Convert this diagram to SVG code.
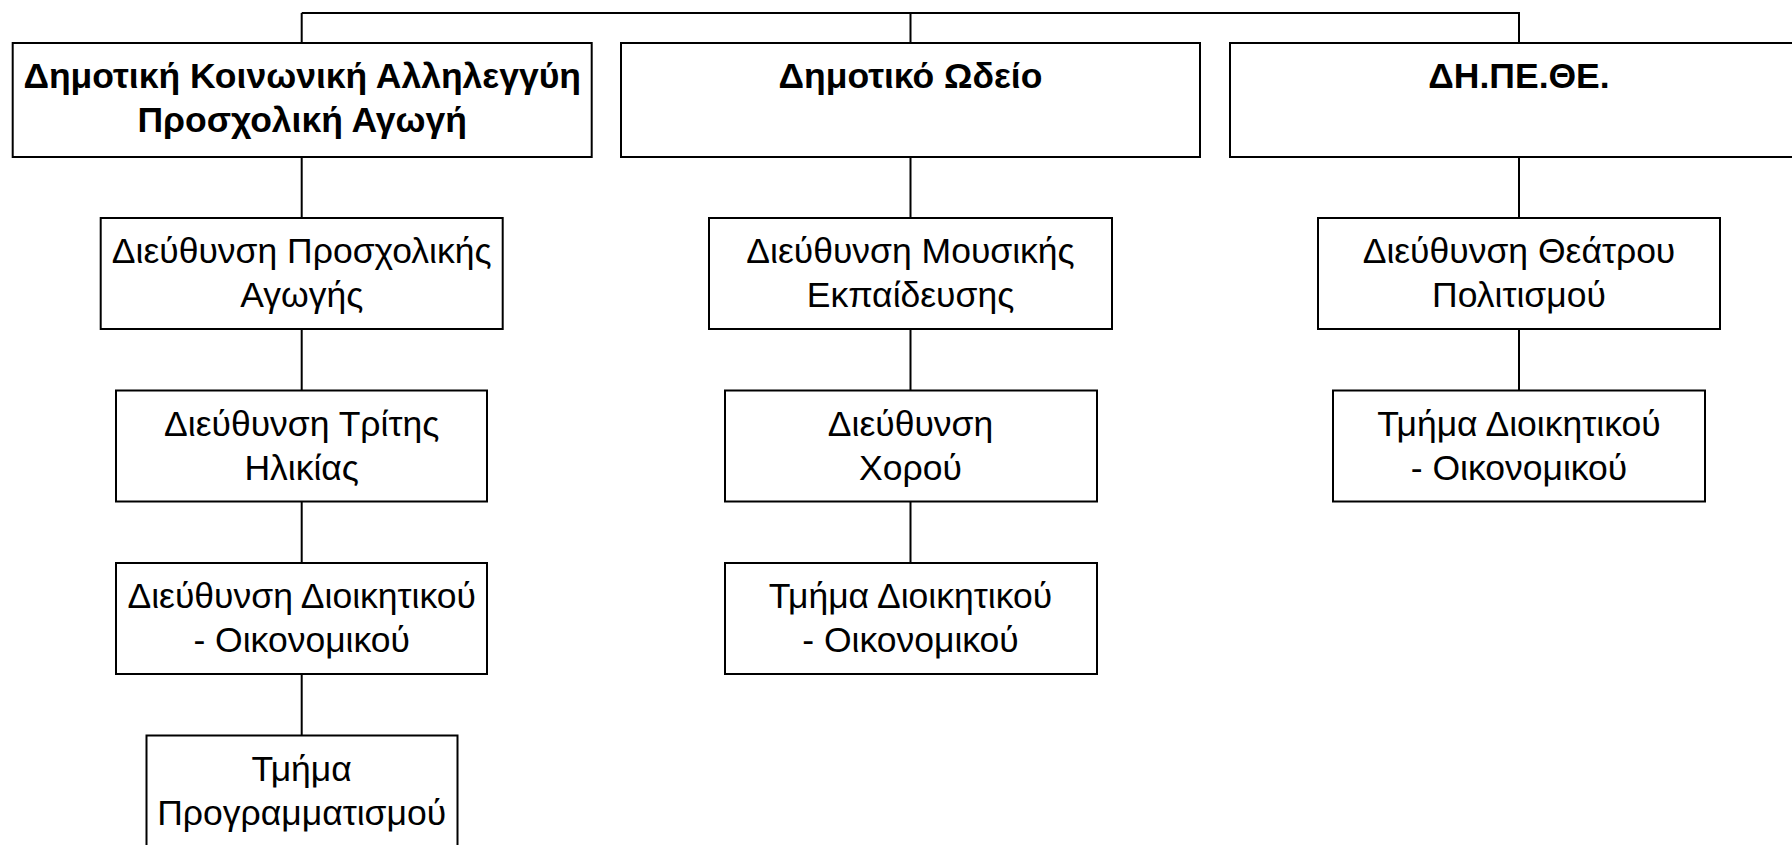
<svg xmlns="http://www.w3.org/2000/svg" width="1792" height="845" viewBox="0 0 1792 845">
  <style>
    .box { fill: #ffffff; stroke: #000000; stroke-width: 2; }
    .link { fill: none; stroke: #000000; stroke-width: 2; }
    .head { font-family: "Liberation Sans", Arial, sans-serif; font-size: 35.5px; font-weight: bold; fill: #000000; text-anchor: middle; }
    .unit { font-family: "Liberation Sans", Arial, sans-serif; font-size: 35.5px; fill: #000000; text-anchor: middle; }
  </style>
  <rect width="1792" height="845" fill="#ffffff"/>

  <!-- connectors -->
  <g id="connectors" class="link">
    <path d="M301.7 13V43 M301.7 13H1519V43 M910.5 13V43"/>
    <path d="M301.7 157V218 M301.7 329V390.5 M301.7 501.5V563 M301.7 674V735.5"/>
    <path d="M910.5 157V218 M910.5 329V390.5 M910.5 501.5V563"/>
    <path d="M1519 157V218 M1519 329V390.5"/>
  </g>

  <!-- top level -->
  <g id="n-social">
    <rect class="box" x="12.7" y="43" width="579" height="114"/>
    <text class="head" x="302.2" y="88">Δημοτική Κοινωνική Αλληλεγγύη</text>
    <text class="head" x="302.2" y="132">Προσχολική Αγωγή</text>
  </g>
  <g id="n-odeio">
    <rect class="box" x="621" y="43" width="579" height="114"/>
    <text class="head" x="910.5" y="88">Δημοτικό Ωδείο</text>
  </g>
  <g id="n-dipethe">
    <rect class="box" x="1230" y="43" width="579" height="114"/>
    <text class="head" x="1519" y="88">ΔΗ.ΠΕ.ΘΕ.</text>
  </g>

  <!-- column A -->
  <g id="n-preschool">
    <rect class="box" x="100.7" y="218" width="402" height="111"/>
    <text class="unit" x="301.7" y="263">Διεύθυνση Προσχολικής</text>
    <text class="unit" x="301.7" y="307">Αγωγής</text>
  </g>
  <g id="n-elderly">
    <rect class="box" x="116" y="390.5" width="371" height="111"/>
    <text class="unit" x="301.7" y="435.5">Διεύθυνση Τρίτης</text>
    <text class="unit" x="301.7" y="479.5">Ηλικίας</text>
  </g>
  <g id="n-admin-a">
    <rect class="box" x="116" y="563" width="371" height="111"/>
    <text class="unit" x="301.7" y="608">Διεύθυνση Διοικητικού</text>
    <text class="unit" x="301.7" y="652">- Οικονομικού</text>
  </g>
  <g id="n-planning">
    <rect class="box" x="146.5" y="735.5" width="311" height="111"/>
    <text class="unit" x="301.7" y="780.5">Τμήμα</text>
    <text class="unit" x="301.7" y="824.5">Προγραμματισμού</text>
  </g>

  <!-- column B -->
  <g id="n-music">
    <rect class="box" x="709" y="218" width="403" height="111"/>
    <text class="unit" x="910.5" y="263">Διεύθυνση Μουσικής</text>
    <text class="unit" x="910.5" y="307">Εκπαίδευσης</text>
  </g>
  <g id="n-dance">
    <rect class="box" x="725" y="390.5" width="372" height="111"/>
    <text class="unit" x="910.5" y="435.5">Διεύθυνση</text>
    <text class="unit" x="910.5" y="479.5">Χορού</text>
  </g>
  <g id="n-admin-b">
    <rect class="box" x="725" y="563" width="372" height="111"/>
    <text class="unit" x="910.5" y="608">Τμήμα Διοικητικού</text>
    <text class="unit" x="910.5" y="652">- Οικονομικού</text>
  </g>

  <!-- column C -->
  <g id="n-theatre">
    <rect class="box" x="1318" y="218" width="402" height="111"/>
    <text class="unit" x="1519" y="263">Διεύθυνση Θεάτρου</text>
    <text class="unit" x="1519" y="307">Πολιτισμού</text>
  </g>
  <g id="n-admin-c">
    <rect class="box" x="1333" y="390.5" width="372" height="111"/>
    <text class="unit" x="1519" y="435.5">Τμήμα Διοικητικού</text>
    <text class="unit" x="1519" y="479.5">- Οικονομικού</text>
  </g>
</svg>
